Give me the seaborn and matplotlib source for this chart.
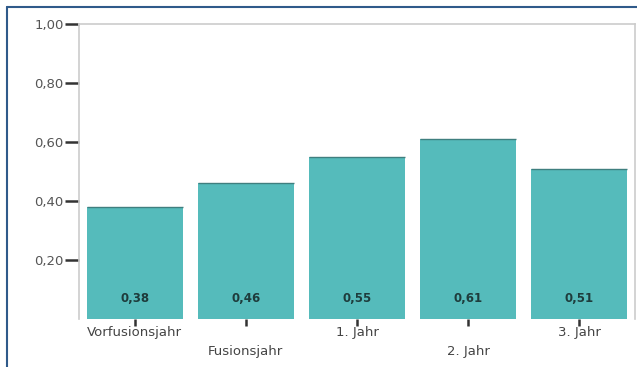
import matplotlib
matplotlib.use("Agg")
import matplotlib.pyplot as plt
import seaborn as sns
import pandas as pd
from matplotlib.lines import Line2D

categories = ["Vorfusionsjahr", "Fusionsjahr", "1. Jahr", "2. Jahr", "3. Jahr"]
values = [0.38, 0.46, 0.55, 0.61, 0.51]
value_labels = ["0,38", "0,46", "0,55", "0,61", "0,51"]
ytick_values = [0.20, 0.40, 0.60, 0.80, 1.00]
ytick_labels = ["0,20", "0,40", "0,60", "0,80", "1,00"]

sns.set_style("white")
plt.rcParams['font.family'] = ['DejaVu Sans']

df = pd.DataFrame({"cat": categories, "val": values})

fig = plt.figure(figsize=(6.37, 3.67), dpi=100)
ax = fig.add_axes([79/637, 1-319/367, (635-79)/637, (319-24)/367])

sns.barplot(data=df, x="cat", y="val", color="#55BBBB", saturation=1,
            width=0.865, ax=ax, edgecolor="none")

ax.set_xlim(-0.5, 4.5)
ax.set_ylim(0, 1.0)
ax.set_yticks(ytick_values)
ax.set_yticklabels(ytick_labels, fontsize=9.5, color="#555555")
ax.set_xlabel("")
ax.set_ylabel("")

xt = [c if i % 2 == 0 else "\n" + c for i, c in enumerate(categories)]
ax.set_xticks(range(len(categories)))
ax.set_xticklabels(xt, fontsize=9.5, color="#444444", linespacing=1.6)

ax.tick_params(axis="y", direction="out", length=10, width=1.8, color="#333333", pad=1, left=True)
ax.tick_params(axis="x", direction="out", length=5, width=1.8, color="#333333", pad=0, bottom=True)

for side in ["top", "right", "left"]:
    ax.spines[side].set_color("#cccccc")
    ax.spines[side].set_linewidth(1.2)
ax.spines["bottom"].set_visible(False)

for i, lab in enumerate(value_labels):
    ax.text(i, 0.07, lab, ha="center", va="center", fontsize=8.5,
            fontweight="bold", color="#1e3c3c")

# dark top edge on bars
for i, v in enumerate(values):
    ax.hlines(v, i - 0.4325, i + 0.4325, color="#3f7f7f", linewidth=1.0)

# outer blue frame
fig.add_artist(Line2D([7/637, 7/637], [0, 1-7/367], color="#2f5a8a", linewidth=1.5, transform=fig.transFigure))
fig.add_artist(Line2D([7/637, 1], [1-7/367, 1-7/367], color="#2f5a8a", linewidth=1.5, transform=fig.transFigure))

fig.savefig("out.png", dpi=100)
